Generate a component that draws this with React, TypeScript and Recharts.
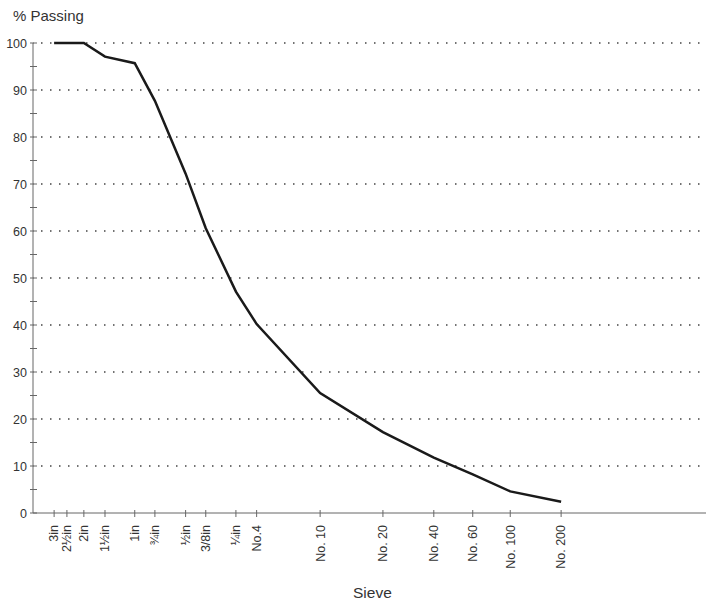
import React from 'react';
import { LineChart, Line, XAxis, YAxis, ReferenceLine } from 'recharts';

const sieveLabels = ['3in', '2½in', '2in', '1½in', '1in', '¾in', '½in', '3/8in', '¼in', 'No.4', 'No. 10', 'No. 20', 'No. 40', 'No. 60', 'No. 100', 'No. 200'];
const sieveSizes = [75, 63, 50, 37.5, 25, 19, 12.5, 9.5, 6.3, 4.75, 2.0, 0.85, 0.425, 0.25, 0.15, 0.075];
const passing = [100, 100, 100, 97.1, 95.7, 87.7, 72.2, 60.6, 47.1, 40.2, 25.5, 17.2, 11.8, 8.2, 4.6, 2.4];
const yTicks = [0, 5, 10, 15, 20, 25, 30, 35, 40, 45, 50, 55, 60, 65, 70, 75, 80, 85, 90, 95, 100];
const gridValues = [10, 20, 30, 40, 50, 60, 70, 80, 90, 100];

const data = sieveSizes.map((s, i) => ({ size: s, pass: passing[i] }));

const FONT = '"Liberation Sans", Arial, sans-serif';
const TEXT = '#333';
const AXIS = '#666';

const XTick = (props: any) => {
  const { x, y, payload } = props;
  const idx = sieveSizes.indexOf(payload.value);
  const label = idx >= 0 ? sieveLabels[idx] : '';
  return (
    <g transform={`translate(${x},${y})`}>
      <line x1={0} x2={0} y1={-3} y2={4} stroke={AXIS} strokeWidth={1} />
      <text transform="rotate(-90)" x={-12} y={0} dy="0.35em" textAnchor="end" fontSize={12.5} fontFamily={FONT} fill={TEXT}>
        {label}
      </text>
    </g>
  );
};

const YTick = (props: any) => {
  const { x, y, payload } = props;
  const v = payload.value;
  return (
    <g transform={`translate(${x},${y})`}>
      <line x1={-3} x2={4} y1={0} y2={0} stroke={AXIS} strokeWidth={1} />
      {v % 10 === 0 ? (
        <text x={-6} y={0} dy="0.36em" textAnchor="end" fontSize={12.5} fontFamily={FONT} fill={TEXT}>
          {v}
        </text>
      ) : null}
    </g>
  );
};

export default function App() {
  return (
    <div style={{ position: 'absolute', left: 0, top: 0, width: 706, height: 600, overflow: 'hidden', background: '#fff' }}>
      <LineChart width={709} height={600} data={data} margin={{ top: 43, right: 0, bottom: 0, left: 0 }}>
        <XAxis
          dataKey="size"
          type="number"
          scale="log"
          domain={[0.01, 100]}
          reversed
          allowDataOverflow
          ticks={sieveSizes}
          interval={0}
          height={87}
          tickSize={0}
          tickMargin={0}
          tickLine={false}
          axisLine={{ stroke: AXIS, strokeWidth: 1 }}
          tick={<XTick />}
        />
        <YAxis
          type="number"
          domain={[0, 100]}
          ticks={yTicks}
          interval={0}
          width={33}
          tickSize={0}
          tickMargin={0}
          tickLine={false}
          axisLine={{ stroke: AXIS, strokeWidth: 1 }}
          tick={<YTick />}
        />
        {gridValues.map((g) => (
          <ReferenceLine key={g} y={g} stroke="#444" strokeWidth={1.5} strokeDasharray="1.5 7.5" strokeDashoffset={-8} />
        ))}
        <Line
          type="linear"
          dataKey="pass"
          stroke="#1a1a1a"
          strokeWidth={2.5}
          dot={false}
          isAnimationActive={false}
        />
      </LineChart>
      <div style={{ position: 'absolute', left: 13, top: 8, fontFamily: FONT, fontSize: 15, lineHeight: 1, color: TEXT, whiteSpace: 'nowrap' }}>
        % Passing
      </div>
      <div style={{ position: 'absolute', left: 353, top: 585, fontFamily: FONT, fontSize: 15.5, lineHeight: 1, color: TEXT, whiteSpace: 'nowrap' }}>
        Sieve
      </div>
    </div>
  );
}
